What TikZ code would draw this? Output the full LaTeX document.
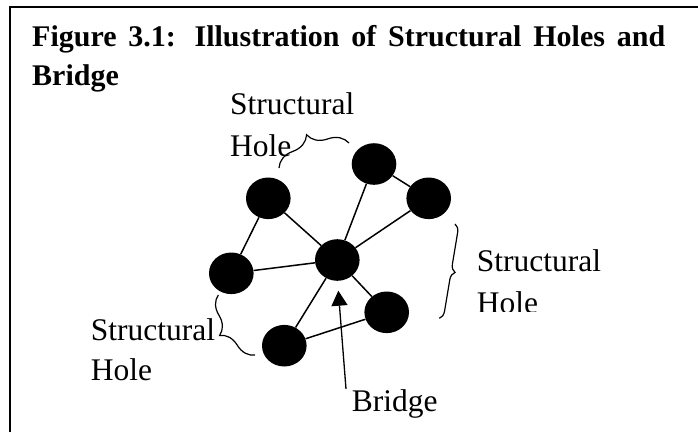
\documentclass[tikz,border=0pt]{standalone}
\usepackage{fontspec}
\setmainfont{Liberation Serif}
\usetikzlibrary{shapes.geometric,decorations.pathreplacing,arrows.meta}
\begin{document}
\begin{tikzpicture}[x=1pt,y=-1pt,
  dot/.style={ellipse,fill=black,draw=none,minimum width=44.6pt,minimum height=41.6pt,inner sep=0pt},
  link/.style={line width=1.5pt},
  lbl/.style={anchor=base west,inner sep=0pt,font=\fontsize{31.5}{36}\selectfont},
  ttl/.style={anchor=base west,inner sep=0pt,font=\fontsize{30}{34}\selectfont\bfseries},
  brc/.style={decorate,line width=1.2pt},
]
\useasboundingbox (0,0) rectangle (698,432);
\fill[white] (0,0) rectangle (698,432);
\draw[line width=2pt] (10.3,432) -- (10.3,7) -- (698,7);

% title
\node[ttl] (t1) at (32,46) {\makebox[633pt][s]{Figure 3.1: Illustration of Structural Holes and}};
\node[ttl] (t2) at (32,85) {Bridge};

% nodes
\node[dot] (tl) at (268.3,198.3) {};
\node[dot] (tu) at (374,164) {};
\node[dot] (rt) at (428.7,198.3) {};
\node[dot] (lf) at (231.3,273.3) {};
\node[dot] (c)  at (337.3,260) {};
\node[dot] (lr) at (386.7,312.3) {};
\node[dot] (bt) at (284.3,345.7) {};

% edges
\draw[link] (tl) -- (lf);
\draw[link] (tl) -- (c);
\draw[link] (lf) -- (c);
\draw[link] (tu) -- (rt);
\draw[link] (tu) -- (c);
\draw[link] (rt) -- (c);
\draw[link] (c) -- (lr);
\draw[link] (c) -- (bt);
\draw[link] (bt) -- (lr);

% bridge arrow
\coordinate (ba) at (346,389);
\coordinate (bh) at (338.3,290.7);
\draw[line width=1.3pt,-{Triangle[width=16pt,length=15pt]}] (ba) -- (bh);
\node[lbl] (bl) at (351.7,411.7) {Bridge};

% braces
\coordinate (b1s) at (279,168);
\coordinate (b1e) at (349,143);
\draw[brc,decoration={brace,amplitude=22pt,aspect=0.5}] (b1s) -- (b1e);
\coordinate (b2s) at (455,224);
\coordinate (b2e) at (439.3,318.3);
\draw[brc,decoration={brace,amplitude=8pt,aspect=0.5}] (b2s) -- (b2e);
\coordinate (b3s) at (255,355);
\coordinate (b3e) at (218.3,295);
\draw[brc,decoration={brace,amplitude=20pt,aspect=0.5}] (b3s) -- (b3e);

% labels
\node[lbl] (s1a) at (230,114) {Structural};
\node[lbl] (s1b) at (230,156.7) {Hole};
\node[lbl] (s2a) at (476.7,271.7) {Structural};
\begin{scope}
\clip (460,280) rectangle (640,311.5);
\node[lbl] (s2b) at (476.7,313.5) {Hole};
\end{scope}
\node[lbl] (s3a) at (90.7,340) {Structural};
\node[lbl] (s3b) at (90.7,380.7) {Hole};
\end{tikzpicture}
\end{document}
